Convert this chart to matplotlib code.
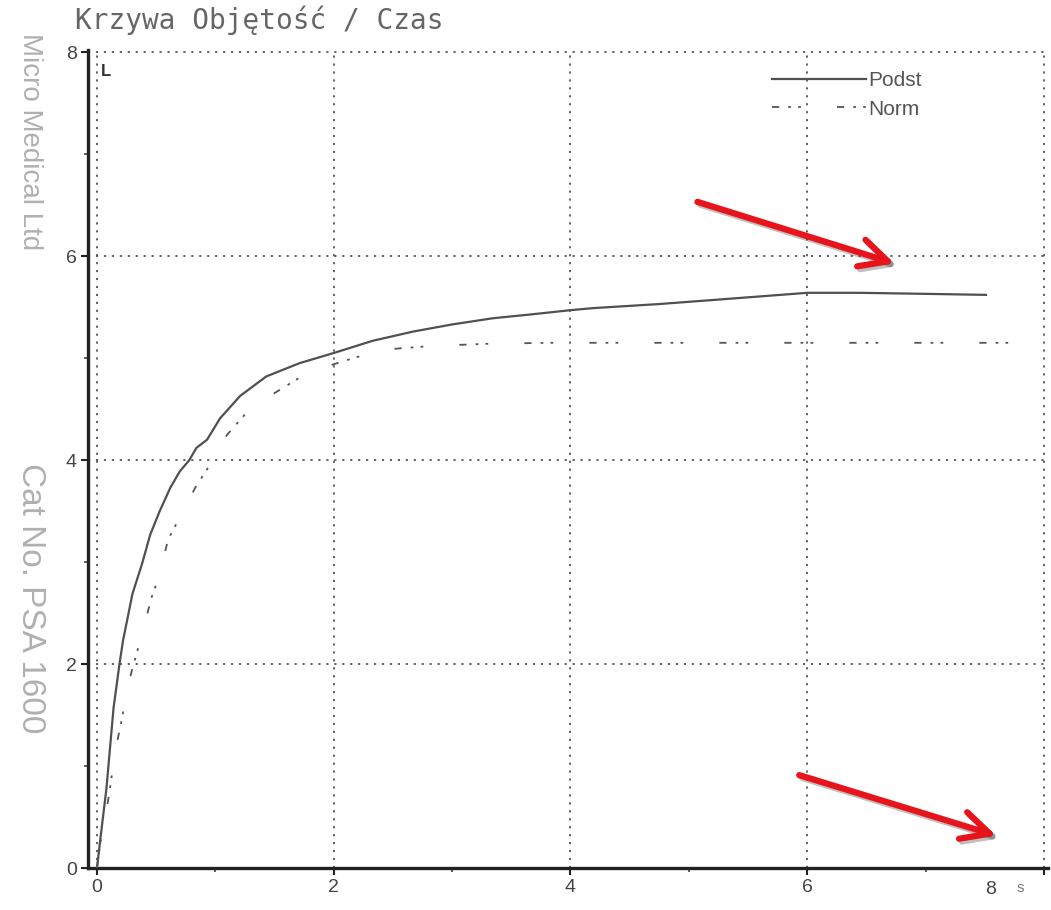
import matplotlib
matplotlib.use("Agg")
import matplotlib.pyplot as plt
import matplotlib.patheffects as pe

# krzywa objetosc / czas (spirometria), odczyt z obrazka
podst_t = [0, 0.03, 0.08, 0.14, 0.19, 0.22, 0.30, 0.38, 0.45, 0.53, 0.62, 0.70, 0.78,
           0.84, 0.93, 1.04, 1.21, 1.43, 1.71, 2.0, 2.33, 2.67, 3.0, 3.34, 3.68, 4.0,
           4.19, 4.75, 5.32, 6.0, 6.45, 7.0, 7.51]
podst_v = [0, 0.3, 0.78, 1.57, 2.0, 2.23, 2.69, 2.98, 3.27, 3.5, 3.73, 3.89, 4.0,
           4.12, 4.2, 4.41, 4.63, 4.82, 4.95, 5.05, 5.17, 5.26, 5.33, 5.39, 5.43, 5.47,
           5.49, 5.53, 5.58, 5.64, 5.64, 5.63, 5.62]

norm_t = [0, 0.03, 0.07, 0.11, 0.15, 0.21, 0.26, 0.30, 0.38, 0.46, 0.53, 0.60, 0.76,
          0.83, 0.93, 1.0, 1.10, 1.29, 1.49, 1.77, 2.0, 2.28, 2.5, 2.84, 3.29, 3.82,
          5.0, 6.5, 8.0]
norm_v = [0, 0.26, 0.49, 0.78, 1.12, 1.46, 1.78, 1.96, 2.29, 2.65, 2.88, 3.22, 3.57,
          3.73, 3.91, 4.07, 4.25, 4.5, 4.65, 4.85, 4.94, 5.04, 5.09, 5.12, 5.14, 5.15,
          5.15, 5.15, 5.15]

x_ticks = [0, 2, 4, 6, 8]
y_ticks = [0, 2, 4, 6, 8]
x_tick_labels = ["0", "2", "4", "6", ""]
y_tick_labels = ["0", "2", "4", "6", "8"]

# czerwone strzalki (start, koniec)
arrows = [((5.05, 6.54), (6.76, 5.92)),
          ((5.91, 0.92), (7.62, 0.31))]

fig = plt.figure(figsize=(10.51, 9.10), dpi=100)
ax = fig.add_axes([0.0837, 0.046, 0.913, 0.899])

ax.plot(podst_t, podst_v, color="#505050", lw=1.6, label="Podst", zorder=3)
ax.plot(norm_t, norm_v, color="#555555", lw=1.3,
        linestyle=(0, (4, 5, 1.5, 4, 1.5, 20)), label="Norm", zorder=3)

ax.set_xlim(-0.076, 8.03)
ax.set_ylim(0, 8.02)

# siatka kropkowana
for x in x_ticks:
    ax.axvline(x, color="#555555", lw=1.3, linestyle=(0, (1.2, 3.2)), zorder=1)
for y in y_ticks[1:]:
    ax.axhline(y, color="#555555", lw=1.3, linestyle=(0, (1.2, 3.2)), zorder=1)

for s in ["top", "right"]:
    ax.spines[s].set_visible(False)
for s in ["left", "bottom"]:
    ax.spines[s].set_linewidth(2.4)
    ax.spines[s].set_color("#222222")

ax.set_xticks(x_ticks)
ax.set_xticklabels(x_tick_labels)
ax.set_yticks(y_ticks)
ax.set_yticklabels(y_tick_labels)
ax.set_xticks([1, 3, 5, 7], minor=True)
ax.set_yticks([1, 3, 5, 7], minor=True)
ax.tick_params(which="major", length=5, width=1.5, color="#222222",
               labelsize=14, labelcolor="#444444", pad=3)
ax.tick_params(which="minor", length=3, width=1.2, color="#444444")
for lab in ax.get_xticklabels() + ax.get_yticklabels():
    lab.set_family("Liberation Sans")

ax.text(7.55, -0.13, "8", ha="center", va="top", fontsize=14, color="#444444",
        family="Liberation Sans")
ax.text(7.8, -0.13, "s", ha="center", va="top", fontsize=11, color="#777777",
        family="Liberation Sans")
ax.text(0.03, 7.88, "L", ha="left", va="top", fontsize=12, color="#333333",
        family="Liberation Sans", weight="bold")

leg = ax.legend(loc="upper left", bbox_to_anchor=(0.693, 0.997), frameon=False,
                handlelength=4.55, handletextpad=0.1, labelspacing=0.45,
                prop={"family": "Liberation Sans", "size": 15})
for t in leg.get_texts():
    t.set_color("#555555")

for (x0, y0), (x1, y1) in arrows:
    ax.annotate("", xy=(x1, y1), xytext=(x0, y0),
                arrowprops=dict(arrowstyle="->,head_length=1.0,head_width=0.5",
                                color="#e8141b", lw=4.5, mutation_scale=20,
                                path_effects=[pe.SimpleLineShadow(offset=(2, -2), alpha=0.25),
                                              pe.Normal()]),
                zorder=5)

fig.text(75 / 1051, 1 - 20 / 910, "Krzywa Objętość / Czas", ha="left", va="center",
         fontsize=20, color="#666666", family="DejaVu Sans Mono")
fig.text(30 / 1051, 1 - 142 / 910, "Micro Medical Ltd", rotation=-90, ha="center",
         va="center", fontsize=20, color="#b0b0b0", family="Liberation Sans")
fig.text(30 / 1051, 1 - 598 / 910, "Cat No. PSA 1600", rotation=-90, ha="center",
         va="center", fontsize=24, color="#b0b0b0", family="Liberation Sans")

fig.savefig("out.png", dpi=100, facecolor="white")
